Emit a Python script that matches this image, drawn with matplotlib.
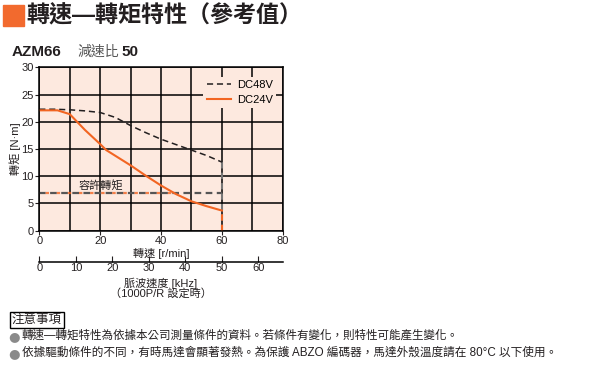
import numpy as np
import matplotlib
matplotlib.use('Agg')
import matplotlib.pyplot as plt
from matplotlib.patches import Rectangle

plt.rcParams['font.family'] = ['Liberation Sans', 'Noto Sans CJK TC', 'DejaVu Sans']

# ==========================================
# DATOS
# ==========================================
vel_48 = [0, 5, 10, 15, 20, 25, 30, 35, 40, 45, 50, 55, 60]
par_48 = [22.3, 22.3, 22.2, 22.0, 21.7, 20.8, 19.3, 18.0, 16.8, 15.8, 14.8, 13.8, 12.6]
vel_24 = [0, 6, 10, 15, 20, 22, 30, 35, 40, 45, 50, 55, 60]
par_24 = [22.1, 22.1, 21.4, 18.5, 15.9, 14.8, 12.0, 10.1, 8.3, 6.7, 5.4, 4.5, 3.7]
par_permitido = 7
vel_max = 60
cruce_24 = 44

x_ticks = [0, 20, 40, 60, 80]
y_ticks = [0, 5, 10, 15, 20, 25, 30]
khz_ticks = [0, 10, 20, 30, 40, 50, 60]

naranja = '#f26522'
fondo = '#fde9df'

fig = plt.figure(figsize=(6, 3.8), dpi=100)

# titulo
fig.patches.append(Rectangle((3 / 600, 1 - 26 / 380), 21 / 600, 21 / 380,
                             transform=fig.transFigure, color='#f26a2e'))
fig.text(26 / 600, 1 - 16 / 380, '轉速—轉矩特性（參考值）', fontsize=16.6, fontweight='bold',
         va='center', ha='left', color='#231f20')
fig.text(12 / 600, 1 - 52 / 380, 'AZM66', fontsize=11, fontweight='bold', va='center', color='#231f20')
fig.text(77 / 600, 1 - 52 / 380, '減速比', fontsize=10, va='center', color='#555555')
fig.text(121 / 600, 1 - 52 / 380, '50', fontsize=11, fontweight='bold', va='center', color='#231f20')

# ==========================================
# GRAFICA PRINCIPAL
# ==========================================
ax = fig.add_axes([39.3 / 600, 1 - 230.7 / 380, 243.4 / 600, 163.4 / 380])
ax.set_facecolor(fondo)
ax.set_xlim(0, 80)
ax.set_ylim(0, 30)
ax.set_xticks(x_ticks)
ax.set_yticks(y_ticks)
ax.xaxis.set_minor_locator(matplotlib.ticker.MultipleLocator(10))
ax.grid(True, which='both', color='black', linewidth=1.1)
ax.set_axisbelow(True)
ax.tick_params(labelsize=8, length=3, width=0.8, colors='#231f20', pad=1)
ax.tick_params(which='minor', length=0)
for s in ax.spines.values():
    s.set_linewidth(1.1)

ax.plot([0, vel_max], [par_permitido, par_permitido], color='#555555', lw=1.6, ls=(0, (3, 2)))
ax.plot([0, cruce_24], [par_permitido, par_permitido], color=naranja, lw=1.6, ls=(2, (1.5, 3.5)), alpha=0.8)
ax.plot([vel_max, vel_max], [0, par_48[-1]], color='#777777', lw=1.5, ls=(0, (3, 2)))
ax.plot([vel_max, vel_max], [0, par_24[-1]], color=naranja, lw=1.5, ls=(0, (3, 2)))
l48, = ax.plot(vel_48, par_48, color='#231f20', lw=1.1, ls=(0, (4, 2.5)), label='DC48V')
l24, = ax.plot(vel_24, par_24, color=naranja, lw=1.5, label='DC24V')
ax.text(13, 7.6, '容許轉矩', fontsize=8, color='#231f20')

leg = ax.legend(handles=[l48, l24], loc='upper right', fontsize=8, frameon=True, facecolor=fondo,
                edgecolor='none', framealpha=1, handlelength=2.2, handletextpad=0.5,
                borderpad=0.3, labelspacing=0.4, bbox_to_anchor=(0.995, 0.975))

ax.set_xlabel('轉速 [r/min]', fontsize=8, labelpad=1, color='#231f20')
ax.set_ylabel('轉矩 [N·m]', fontsize=8, labelpad=0, color='#231f20')

# eje secundario de pulsos
ax2 = fig.add_axes([39.3 / 600, 1 - 262 / 380, 243.4 / 600, 0.001])
ax2.set_xlim(0, 80 * 50 / 60)
ax2.set_xticks(khz_ticks)
ax2.set_yticks([])
for k in ['top', 'left', 'right']:
    ax2.spines[k].set_visible(False)
ax2.spines['bottom'].set_linewidth(1.1)
ax2.tick_params(axis='x', direction='in', length=4, width=0.8, labelsize=8, pad=1, colors='#231f20')
ax2.patch.set_visible(False)
fig.text(161 / 600, 1 - 283 / 380, '脈波速度 [kHz]', fontsize=8, ha='center', va='center', color='#231f20')
fig.text(161 / 600, 1 - 293 / 380, '（1000P/R 設定時）', fontsize=8, ha='center', va='center', color='#231f20')

# ==========================================
# NOTAS
# ==========================================
fig.text(12 / 600, 1 - 320 / 380, '注意事項', fontsize=9, va='center', color='#231f20',
         bbox=dict(facecolor='white', edgecolor='black', linewidth=1, pad=1.5))
for yy in [337, 354]:
    fig.text(14 / 600, 1 - yy / 380, '●', fontsize=9.5, va='center', ha='center', color='#8a8a8a',
             family='DejaVu Sans')
fig.text(22 / 600, 1 - 336 / 380, '轉速—轉矩特性為依據本公司測量條件的資料。若條件有變化，則特性可能產生變化。',
         fontsize=8.3, va='center', color='#231f20')
fig.text(22 / 600, 1 - 353 / 380, '依據驅動條件的不同，有時馬達會顯著發熱。為保護 ABZO 編碼器，馬達外殼溫度請在 80°C 以下使用。',
         fontsize=8.4, va='center', color='#231f20')

fig.savefig('out.png', dpi=100)
